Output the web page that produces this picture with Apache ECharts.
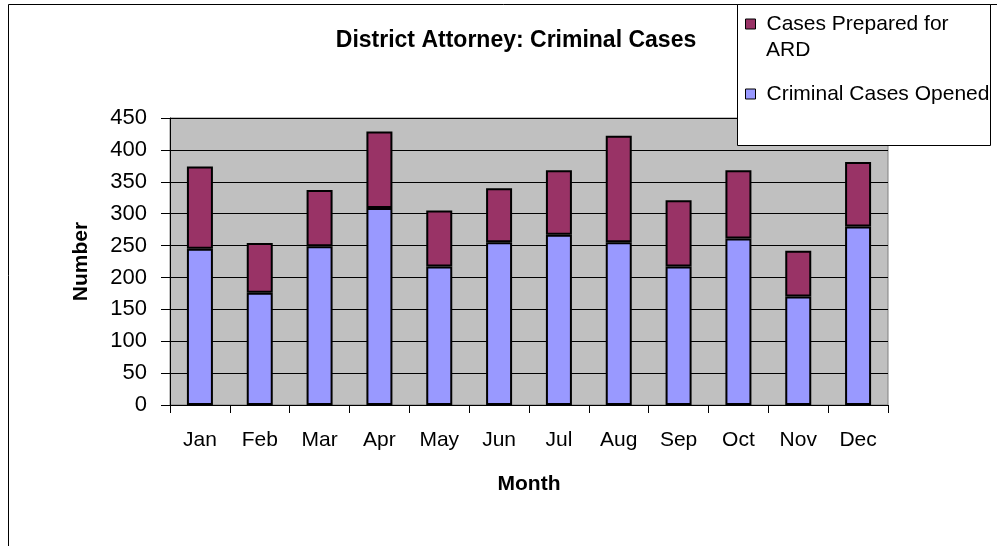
<!DOCTYPE html>
<html>
<head>
<meta charset="utf-8">
<script src="https://cdn.jsdelivr.net/npm/echarts@6/dist/echarts.min.js"></script>
<style>
  body { margin: 0; background: #fff; }
  #chart { width: 997px; height: 546px; }
</style>
</head>
<body>
<div id="chart"></div>
<script>
// data
var months = ['Jan', 'Feb', 'Mar', 'Apr', 'May', 'Jun', 'Jul', 'Aug', 'Sep', 'Oct', 'Nov', 'Dec'];
var casesOpened = [245, 176, 249, 309, 217, 255, 267, 255, 217, 261, 170, 280];
var casesARD = [129, 78, 88, 120, 88, 85, 101, 167, 104, 107, 72, 101];

var chartDom = document.getElementById('chart');
var myChart = echarts.init(chartDom);
var font = 'Arial, "Liberation Sans", sans-serif';
var option;

option = {
  animation: false,
  title: {
    text: 'District Attorney: Criminal Cases',
    left: 511,
    top: 24,
    textAlign: 'center',
    textStyle: { fontFamily: font, fontSize: 23, fontWeight: 'bold', color: '#000' }
  },
  graphic: [
    // outer chart frame (runs off the right and bottom edge)
    { type: 'rect', z: -1, shape: { x: 8.5, y: 4.5, width: 1100, height: 600 },
      style: { fill: '#fff', stroke: '#000', lineWidth: 1 } },
    // legend box
    { type: 'rect', z: 10, shape: { x: 737.5, y: 4.5, width: 253, height: 141 },
      style: { fill: '#fff', stroke: '#000', lineWidth: 1 } },
    { type: 'text', z: 12, left: 766, top: 40,
      style: { text: 'ARD', fontFamily: font, fontSize: 21, fill: '#000' } }
  ],
  legend: [
    {
      data: ['Cases Prepared for ARD'],
      left: 745, top: 11, padding: 0, z: 12,
      icon: 'rect', itemWidth: 10, itemHeight: 10,
      itemStyle: { borderColor: '#000', borderWidth: 1 },
      formatter: function () { return 'Cases Prepared for'; },
      textStyle: { fontFamily: font, fontSize: 21, color: '#000', lineHeight: 26, padding: [0, 0, 0, 6] }
    },
    {
      data: ['Criminal Cases Opened'],
      left: 745, top: 81, padding: 0, z: 12,
      icon: 'rect', itemWidth: 10, itemHeight: 10,
      itemStyle: { borderColor: '#000', borderWidth: 1 },
      textStyle: { fontFamily: font, fontSize: 21, color: '#000', lineHeight: 26, padding: [0, 0, 0, 6] }
    }
  ],
  grid: {
    left: 170, right: 109, top: 118, bottom: 141,
    show: true, backgroundColor: '#C0C0C0', borderColor: '#808080', borderWidth: 1
  },
  xAxis: {
    type: 'category',
    data: months,
    name: 'Month',
    nameLocation: 'middle',
    nameGap: 69,
    nameTextStyle: { fontFamily: font, fontSize: 21, fontWeight: 'bold', color: '#000' },
    axisLine: { lineStyle: { color: '#000', width: 1 } },
    axisTick: { show: true, length: 8, lineStyle: { color: '#000' } },
    axisLabel: { fontFamily: font, fontSize: 21, color: '#000', margin: 25 }
  },
  yAxis: {
    type: 'value',
    min: 0, max: 450, interval: 50,
    name: 'Number',
    nameLocation: 'middle',
    nameGap: 78,
    nameTextStyle: { fontFamily: font, fontSize: 21, fontWeight: 'bold', color: '#000' },
    axisLine: { show: true, lineStyle: { color: '#000', width: 1 } },
    axisTick: { show: true, length: 9, lineStyle: { color: '#000' } },
    axisLabel: { fontFamily: font, fontSize: 22, color: '#000', margin: 23 },
    splitLine: { lineStyle: { color: '#000', width: 1 } }
  },
  series: [
    {
      name: 'Criminal Cases Opened',
      type: 'bar',
      stack: 'cases',
      barWidth: 26,
      data: casesOpened,
      itemStyle: { color: '#9999FF', borderColor: '#000', borderWidth: 2 }
    },
    {
      name: 'Cases Prepared for ARD',
      type: 'bar',
      stack: 'cases',
      barWidth: 26,
      data: casesARD,
      itemStyle: { color: '#993366', borderColor: '#000', borderWidth: 2 }
    }
  ]
};

option && myChart.setOption(option);
</script>
</body>
</html>
